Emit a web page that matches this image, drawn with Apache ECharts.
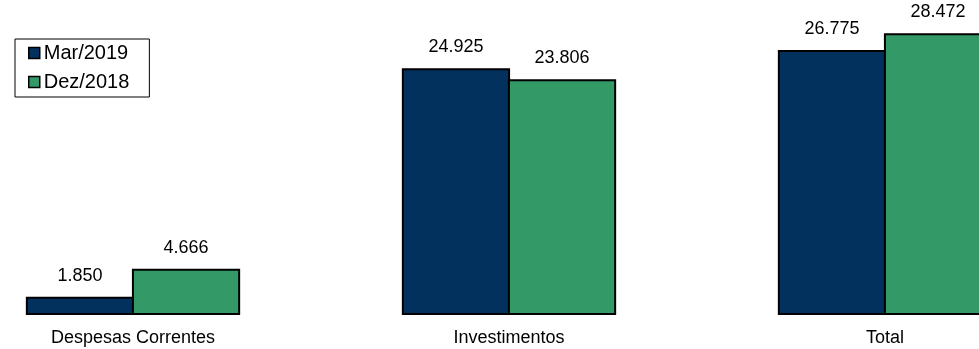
<!DOCTYPE html>
<html>
<head>
<meta charset="utf-8">
<script src="https://cdn.jsdelivr.net/npm/echarts@6/dist/echarts.min.js"></script>
<style>
  html, body { margin: 0; padding: 0; background: #fff; overflow: hidden; }
  /* o gráfico original corta a última barra na borda direita */
  #main { width: 1128px; height: 349px; margin-left: -55px; }
</style>
</head>
<body>
<div id="main"></div>
<script>
  var categories = ['Despesas Correntes', 'Investimentos', 'Total'];
  var mar2019 = [1850, 24925, 26775];
  var dez2018 = [4666, 23806, 28472];

  // formato brasileiro: 24925 -> 24.925
  function fmt(v) {
    return String(v).replace(/\B(?=(\d{3})+(?!\d))/g, '.');
  }

  var font = 'Liberation Sans, Arial, sans-serif';
  var labelCfg = {
    show: true,
    position: 'top',
    distance: 12,
    fontFamily: font,
    fontSize: 18,
    color: '#000',
    formatter: function (p) { return fmt(p.value); }
  };

  var chart = echarts.init(document.getElementById('main'));
  var option = {
    animation: false,
    legend: {
      orient: 'vertical',
      left: 70,
      top: 39,
      padding: [4, 20, 5, 13],
      itemGap: 9,
      itemWidth: 11,
      itemHeight: 11,
      borderColor: '#000',
      borderWidth: 1,
      icon: 'rect',
      itemStyle: { borderColor: '#000', borderWidth: 1.5 },
      textStyle: { fontFamily: font, fontSize: 20, color: '#000', padding: [0, 0, 0, -1] },
      data: ['Mar/2019', 'Dez/2018']
    },
    grid: { left: 0, right: 0, top: 18, bottom: 34 },
    xAxis: {
      type: 'category',
      data: categories,
      axisLine: { show: false },
      axisTick: { show: false },
      axisLabel: { margin: 14, fontFamily: font, fontSize: 18, color: '#000' }
    },
    yAxis: {
      type: 'value',
      min: 0,
      max: 30000,
      show: false
    },
    series: [
      {
        name: 'Mar/2019',
        type: 'bar',
        data: mar2019,
        barGap: '-2%',
        barCategoryGap: '43%',
        itemStyle: { color: '#03315E', borderColor: '#000', borderWidth: 2 },
        label: labelCfg
      },
      {
        name: 'Dez/2018',
        type: 'bar',
        data: dez2018,
        itemStyle: { color: '#339966', borderColor: '#000', borderWidth: 2 },
        label: labelCfg
      }
    ]
  };
  chart.setOption(option);
</script>
</body>
</html>
